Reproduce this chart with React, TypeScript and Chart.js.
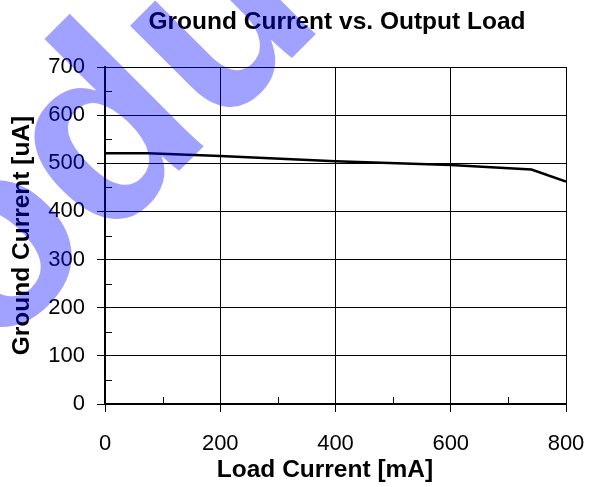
import React, { useEffect, useRef } from "react";
import { Chart, registerables } from "chart.js";

Chart.register(...registerables);

const loadCurrent = [0, 75, 200, 400, 600, 740, 800];
const groundCurrent = [521, 521, 515, 504, 496.5, 487, 462];
const xTicks = [0, 200, 400, 600, 800];
const yTicks = [0, 100, 200, 300, 400, 500, 600, 700];
const xMinorTicks = [100, 300, 500, 700];
const yMinorTicks = [50, 150, 250, 350, 450, 550, 650];
const chartTitle = "Ground Current vs. Output Load";
const xTitle = "Load Current [mA]";
const yTitle = "Ground Current [uA]";
const watermarkText = "Product";

const FONT = "'Liberation Sans', Arial, Helvetica, sans-serif";

export default function App() {
  const ref = useRef<HTMLCanvasElement | null>(null);

  useEffect(() => {
    if (!ref.current) return;
    Chart.defaults.font.family = FONT;
    Chart.defaults.color = "#000";

    const extras = {
      id: "extras",
      afterDraw(chart: any) {
        const ctx = chart.ctx;
        const xs = chart.scales.x;
        const ys = chart.scales.y;
        const area = chart.chartArea;
        ctx.save();
        ctx.strokeStyle = "#000";
        ctx.lineWidth = 1;
        ctx.beginPath();
        for (const v of yMinorTicks) {
          const y = Math.round(ys.getPixelForValue(v)) + 0.5;
          ctx.moveTo(area.left, y);
          ctx.lineTo(area.left + 7, y);
        }
        for (const v of xMinorTicks) {
          const x = Math.round(xs.getPixelForValue(v)) + 0.5;
          ctx.moveTo(x, area.bottom);
          ctx.lineTo(x, area.bottom - 7);
        }
        ctx.stroke();

        // chart title and x-axis title
        ctx.fillStyle = "#000";
        ctx.font = `bold 24.5px ${FONT}`;
        ctx.textAlign = "center";
        ctx.textBaseline = "alphabetic";
        ctx.fillText(chartTitle, 337, 29);
        ctx.fillText(xTitle, 325, 477);

        // watermark
        ctx.fillStyle = "rgba(0,0,255,0.37)";
        ctx.font = `bold 260px ${FONT}`;
        ctx.textAlign = "left";
        ctx.translate(-203, 553);
        ctx.rotate(-Math.PI / 4);
        ctx.fillText(watermarkText, 0, 0);
        ctx.restore();
      },
    };

    const chart = new Chart(ref.current, {
      type: "line",
      data: {
        datasets: [
          {
            data: loadCurrent.map((x, i) => ({ x, y: groundCurrent[i] })),
            borderColor: "#000",
            borderWidth: 2.5,
            pointRadius: 0,
            tension: 0,
            fill: false,
          },
        ],
      },
      options: {
        responsive: false,
        animation: false,
        layout: { padding: { top: 67, right: 28, bottom: 0, left: 0 } },
        plugins: {
          legend: { display: false },
          title: { display: false },
          tooltip: { enabled: false },
        },
        scales: {
          x: {
            type: "linear",
            min: 0,
            max: 800,
            afterBuildTicks: (s: any) => {
              s.ticks = xTicks.map((v) => ({ value: v }));
            },
            afterFit: (s: any) => {
              s.height = 83;
              s.paddingLeft = 0;
              s.paddingRight = 0;
            },
            grid: { color: "#000", lineWidth: 1, tickLength: 8, tickColor: "#000" },
            border: { color: "#000", width: 2 },
            ticks: { font: { size: 22 }, padding: 19, color: "#000", maxRotation: 0 },
            title: { display: false },
          },
          y: {
            type: "linear",
            min: 0,
            max: 700,
            afterBuildTicks: (s: any) => {
              s.ticks = yTicks.map((v) => ({ value: v }));
            },
            afterFit: (s: any) => {
              s.width = 105;
            },
            grid: { color: "#000", lineWidth: 1, tickLength: 8, tickColor: "#000" },
            border: { color: "#000", width: 2 },
            ticks: { font: { size: 22 }, padding: 12, color: "#000" },
            title: {
              display: true,
              text: yTitle,
              font: { size: 24.5, weight: "bold" },
              padding: { top: 8, bottom: 0 },
              color: "#000",
            },
          },
        },
      },
      plugins: [extras],
    });
    return () => chart.destroy();
  }, []);

  return (
    <div style={{ position: "absolute", left: 0, top: 0, width: 594, height: 487, background: "#fff" }}>
      <canvas ref={ref} width={594} height={487} />
    </div>
  );
}
